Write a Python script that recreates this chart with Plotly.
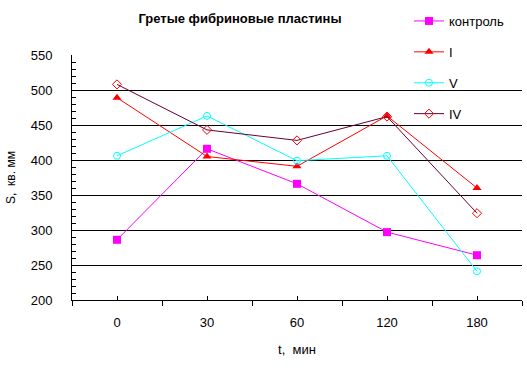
import plotly.graph_objects as go

categories = ["0", "30", "60", "120", "180"]
control = [286, 416, 366, 297, 264]
series_I = [489, 405, 391, 463, 360]
series_V = [406, 463, 399, 406, 241]
series_IV = [508, 443, 428, 462, 324]

y_ticks = [200, 250, 300, 350, 400, 450, 500, 550]

FONT = "Liberation Sans, Arial, sans-serif"

fig = go.Figure()
fig.add_trace(go.Scatter(x=categories, y=control, name="контроль", mode="lines+markers",
                         legendgroup="a",
                         line=dict(color="#FF00FF", width=1),
                         marker=dict(symbol="square", size=8, color="#FF00FF")))
fig.add_trace(go.Scatter(x=categories, y=series_I, name="I", mode="lines+markers",
                         legendgroup="b",
                         line=dict(color="#FF0000", width=1),
                         marker=dict(symbol="triangle-up", size=8, color="#FF0000")))
fig.add_trace(go.Scatter(x=categories, y=series_V, name="V", mode="lines+markers",
                         legendgroup="c",
                         line=dict(color="#00FFFF", width=1),
                         marker=dict(symbol="circle-open", size=7, color="#00FFFF", line=dict(width=1))))
fig.add_trace(go.Scatter(x=categories, y=series_IV, name="IV", mode="lines+markers",
                         legendgroup="d",
                         line=dict(color="#660033", width=1),
                         marker=dict(symbol="diamond-open", size=7, color="#FF0000", line=dict(width=1))))
# overlay axis for small inside ticks at category centres
fig.add_trace(go.Scatter(x=categories, y=[None]*5, xaxis="x2", showlegend=False,
                         hoverinfo="skip", mode="lines"))

fig.update_layout(
    width=527, height=371,
    margin=dict(l=72, r=5, t=55, b=71, autoexpand=False),
    paper_bgcolor="white", plot_bgcolor="white",
    font=dict(family=FONT, size=13, color="black"),
    title=dict(text="<b>Гретые фибриновые пластины</b>", x=240/527, xanchor="center",
               y=1-18/371, yanchor="middle", font=dict(size=13, family=FONT)),
    showlegend=True,
    legend=dict(x=(409-72)/450, xanchor="left", y=(300-6)/245, yanchor="top",
                bgcolor="rgba(0,0,0,0)", font=dict(size=13, family=FONT),
                traceorder="grouped", tracegroupgap=11, itemwidth=30),
    xaxis=dict(type="category", range=[-0.5, 4.5], tickson="boundaries",
               ticks="outside", ticklen=5, tickcolor="black", showgrid=False,
               showline=True, linecolor="black", linewidth=1, zeroline=False,
               automargin=False, ticklabelstandoff=10,
               title=dict(text="t,  мин", font=dict(size=13), standoff=16),
               tickfont=dict(size=13)),
    xaxis2=dict(type="category", range=[-0.5, 4.5], overlaying="x", side="bottom",
                ticks="inside", ticklen=4, tickcolor="black", showticklabels=False,
                showgrid=False, showline=False, zeroline=False, matches="x",
                automargin=False),
    yaxis=dict(range=[200, 550], tickvals=y_ticks, ticks="inside", ticklen=4,
               tickcolor="black", showgrid=True, gridcolor="black", gridwidth=1,
               showline=True, linecolor="black", linewidth=1, zeroline=False,
               automargin=False, ticklabelstandoff=16,
               minor=dict(dtick=10, ticks="inside", ticklen=4, tickcolor="black", showgrid=False),
               title=dict(text="S,  кв. мм", font=dict(size=12), standoff=12),
               tickfont=dict(size=13)),
)

fig.write_html("out.html", post_script="document.body.style.margin='0';",
               config={"displayModeBar": False})
